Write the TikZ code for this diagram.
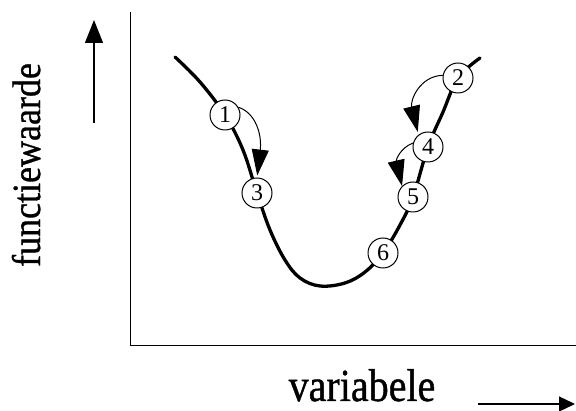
\documentclass[tikz,border=0pt]{standalone}
\usepackage{fontspec}
\setmainfont{Liberation Serif}
\newfontfamily\lblfont[FakeBold=0.9]{Liberation Serif}
\usetikzlibrary{arrows.meta}
\begin{document}
\begin{tikzpicture}[x=1pt,y=-1pt,
  axis/.style={line width=1pt},
  curvestyle/.style={line width=3.3pt, line join=round, line cap=round},
  pt/.style={circle, draw, fill=white, line width=1pt, minimum size=30pt, inner sep=0pt, font=\fontsize{24}{24}\selectfont},
  movearrow/.style={line width=1pt, -{Triangle[length=26pt,width=17pt]}},
  yarrow/.style={line width=1.4pt, -{Triangle[length=23pt,width=18pt]}},
  xarrow/.style={line width=1.2pt, -{Triangle[length=16pt,width=15pt]}},
  lbl/.style={inner sep=0pt}]
\useasboundingbox (0,0) rectangle (576,411);
% axes
\coordinate (ytop) at (130,12);
\coordinate (O) at (130,346);
\coordinate (xend) at (576,346);
\draw[axis] (ytop) -- (O) -- (xend);
% direction arrows
\coordinate (ya) at (94,123);
\coordinate (yb) at (94,20);
\draw[yarrow] (ya) -- (yb);
\coordinate (xa) at (478,404);
\coordinate (xb) at (575,404);
\draw[xarrow] (xa) -- (xb);
% labels
\node[lbl, anchor=base] (xlabel) at (362,401) {\lblfont\fontsize{46}{46}\selectfont\scalebox{0.87}[1]{variabele}};
\node[lbl, anchor=base, rotate=90] (ylabel) at (40,165) {\lblfont\fontsize{40}{40}\selectfont\scalebox{0.9}[1]{functiewaarde}};
% curve
\draw[curvestyle] plot[smooth, tension=0.6] coordinates {
 (175,57) (200,82) (225,115) (243,150) (257,193) (270,230) (285,260)
 (300,278) (320,286) (345,283) (365,272) (383,253) (400,225) (413,197)
 (428,147) (443,112) (458,78) (480,58)};
% points
\node[pt] (c1) at (225,115) {1};
\node[pt] (c3) at (257,193) {3};
\node[pt] (c6) at (383,253) {6};
\node[pt] (c5) at (413,197) {5};
\node[pt] (c4) at (428,147) {4};
\node[pt] (c2) at (458,78) {2};
% moves
\draw[movearrow, shorten >=2pt] (c1.30) .. controls (256,113) and (262,135) .. (c3.north);
\draw[movearrow, shorten >=3pt] (c2.170) .. controls (420,76) and (410,100) .. (c4.128);
\draw[movearrow] (c4.165) .. controls (400,148) and (396,160) .. (c5.135);
\end{tikzpicture}
\end{document}
